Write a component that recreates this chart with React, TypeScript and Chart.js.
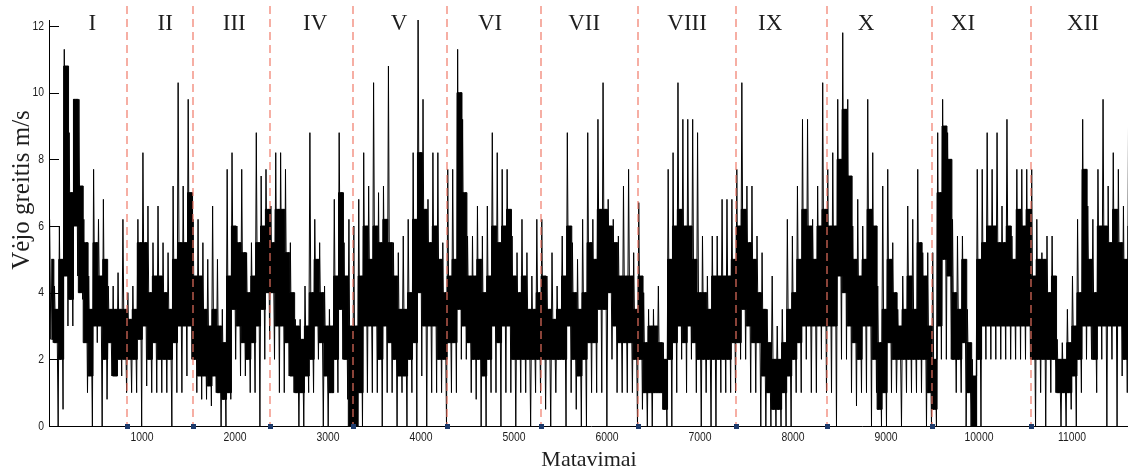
import React, { useEffect, useRef } from 'react';
import { Chart, registerables } from 'chart.js';

Chart.register(...registerables);

// Month labels and month boundaries (measurement index)
const monthNames = ['I', 'II', 'III', 'IV', 'V', 'VI', 'VII', 'VIII', 'IX', 'X', 'XI', 'XII'];
const monthBounds = [0, 841, 1544, 2379, 3271, 4281, 5292, 6335, 7389, 8367, 9496, 10560, 11656];
const monthLabelPos = [465, 1250, 1992, 2862, 3765, 4743, 5754, 6861, 7754, 8785, 9828, 11119];

const xTickValues = [1000, 2000, 3000, 4000, 5000, 6000, 7000, 8000, 9000, 10000, 11000];
const yTickValues = [0, 2, 4, 6, 8, 10, 12];

// Wind speed trace, in consecutive groups of four per short
// stretch of measurements: peak, low edge of dense band, high edge of dense band, trough.
const jan = [
  6.2, 2.6, 5.0, 2.5, 4.2, 2.5, 3.5, 0, 6.0, 2.0, 5.0, 0.5, 11.3, 4.5, 10.8, 3.0,
  8.8, 3.8, 7.0, 3.0, 9.8, 6.0, 9.8, 4.5, 9.8, 4.0, 7.2, 3.8, 6.2, 2.5, 5.5, 1.0,
  4.5, 1.5, 3.5, 0, 7.7, 3.0, 5.5, 2.5, 6.2, 3.0, 4.5, 0, 6.8, 2.0, 5.0, 0.8,
  4.2, 2.5, 3.5, 1.5, 4.2, 1.5, 3.5, 1.5, 4.6, 2.0, 3.5, 1.5, 6.2, 2.0, 3.5, 1.0,
];
const feb = [
  4.0, 2.0, 3.2, 1.0, 4.2, 2.0, 3.5, 1.0, 6.2, 2.6, 5.5, 0, 8.2, 3.0, 5.5, 1.2,
  6.6, 2.0, 4.0, 1.0, 5.5, 2.5, 4.5, 1.0, 6.6, 2.0, 4.5, 1.0, 5.5, 2.0, 4.0, 1.0,
  5.2, 2.0, 3.5, 0, 7.2, 2.5, 5.0, 1.0, 10.3, 3.0, 5.5, 1.0, 7.2, 3.0, 5.5, 1.5,
  9.8, 3.0, 7.0, 2.0,
];
const mar = [
  6.2, 2.0, 4.5, 1.0, 6.2, 1.5, 4.5, 0.8, 5.5, 1.5, 3.5, 0.8, 5.0, 1.2, 3.0, 0.6,
  6.6, 1.5, 3.5, 1.0, 5.0, 1.0, 3.0, 0, 3.5, 0.8, 2.5, 0, 7.7, 1.0, 4.5, 0.8,
  8.2, 3.5, 6.0, 2.0, 6.0, 3.0, 5.5, 1.5, 7.7, 2.5, 5.2, 1.5, 5.2, 2.0, 4.0, 1.0,
  5.5, 2.5, 4.5, 1.0, 8.8, 3.0, 5.5, 0, 7.5, 3.5, 6.0, 2.0, 7.7, 4.0, 6.5, 2.6,
];
const apr = [
  6.6, 4.0, 5.5, 2.0, 8.2, 3.0, 6.5, 1.0, 8.2, 3.0, 6.5, 1.0, 7.7, 2.5, 5.2, 1.5,
  5.5, 1.5, 4.0, 1.0, 3.2, 1.0, 3.0, 0, 3.2, 1.0, 2.6, 0, 4.2, 1.5, 3.0, 1.0,
  8.8, 2.0, 4.0, 1.0, 6.2, 3.0, 5.0, 2.0, 5.5, 2.5, 4.0, 0, 4.2, 1.5, 3.0, 0,
  3.5, 1.0, 3.0, 1.0, 6.8, 2.0, 4.5, 1.0, 8.8, 3.5, 7.0, 2.0, 5.5, 2.0, 4.5, 0.8,
  6.2, 0, 3.0, 0,
];
const may = [
  6.0, 0, 3.0, 0, 6.8, 1.0, 4.5, 0, 8.2, 3.0, 6.0, 1.0, 7.2, 3.0, 5.0, 1.0,
  10.3, 3.0, 6.0, 1.0, 7.0, 2.0, 5.5, 0, 7.2, 3.0, 6.2, 1.0, 10.8, 2.5, 5.5, 1.0,
  5.5, 2.0, 4.5, 0, 5.2, 1.5, 3.5, 1.0, 5.7, 1.5, 3.5, 0, 6.2, 2.0, 4.0, 1.0,
  8.2, 2.5, 6.2, 0, 12.4, 4.0, 8.2, 1.5, 9.8, 3.0, 6.5, 0, 6.8, 3.0, 5.5, 1.0,
  8.2, 3.0, 6.0, 1.0, 8.2, 2.0, 5.0, 1.0, 5.5, 2.0, 4.0, 0,
];
const jun = [
  7.7, 2.5, 4.5, 1.0, 7.7, 2.5, 5.0, 1.0, 11.3, 3.5, 10.0, 2.0, 9.2, 3.0, 7.0, 2.0,
  5.7, 2.5, 4.5, 1.0, 5.7, 2.0, 4.5, 0.8, 6.6, 2.0, 5.0, 0, 5.7, 1.5, 4.0, 0,
  6.6, 2.0, 4.5, 1.0, 8.8, 3.0, 6.0, 1.0, 8.2, 2.5, 5.5, 0, 7.7, 3.0, 6.0, 1.0,
  7.7, 3.0, 6.5, 1.0, 5.7, 2.0, 4.5, 0, 5.2, 2.0, 4.0, 1.0, 6.2, 2.0, 4.5, 1.0,
  5.2, 2.0, 3.5, 0, 4.5, 2.0, 3.5, 1.0, 6.2, 2.0, 4.0, 1.0,
];
const jul = [
  6.2, 2.0, 4.5, 0.5, 4.5, 2.0, 3.5, 0, 5.2, 2.0, 3.2, 1.0, 4.2, 2.0, 3.5, 2.0,
  5.7, 2.0, 4.5, 0, 8.8, 3.0, 6.0, 1.0, 5.5, 2.0, 4.0, 0.5, 5.0, 1.5, 3.5, 0,
  6.2, 2.0, 4.0, 0, 8.8, 2.5, 5.5, 1.0, 6.2, 2.5, 5.0, 1.0, 9.2, 3.5, 6.5, 1.0,
  10.3, 3.5, 6.5, 0, 6.8, 4.0, 6.0, 2.0, 6.2, 3.0, 5.5, 1.0, 5.7, 2.5, 4.5, 1.0,
  7.2, 2.5, 4.5, 1.0, 7.7, 2.5, 4.5, 1.0, 5.2, 2.0, 3.5, 0,
];
const aug = [
  6.7, 2.0, 4.5, 0.5, 4.0, 1.0, 2.5, 0, 3.5, 1.0, 3.0, 0, 3.5, 1.0, 3.0, 1.0,
  4.2, 1.0, 2.5, 1.0, 2.5, 0.5, 2.0, 0, 7.7, 2.0, 5.0, 0, 8.2, 2.5, 6.0, 1.0,
  10.3, 3.0, 6.5, 2.0, 9.2, 2.5, 6.0, 1.0, 9.2, 3.0, 6.0, 2.0, 9.2, 2.5, 5.0, 1.0,
  8.8, 2.0, 4.0, 0, 5.7, 2.0, 4.0, 1.0, 4.5, 2.0, 3.5, 0, 5.7, 2.0, 4.5, 0,
  5.7, 2.0, 4.5, 1.0, 6.8, 2.0, 4.5, 1.0, 6.8, 2.0, 4.5, 1.0, 6.8, 2.5, 5.0, 1.0,
];
const sep = [
  7.7, 2.5, 6.0, 2.0, 10.3, 3.5, 6.5, 2.0, 7.2, 3.0, 5.5, 1.0, 7.2, 2.5, 5.0, 1.0,
  5.7, 2.5, 4.0, 0, 5.2, 1.5, 3.5, 0, 3.5, 1.0, 2.5, 0, 4.5, 0.5, 2.0, 0,
  3.0, 0.5, 2.0, 0, 3.5, 1.0, 2.5, 0, 6.2, 1.5, 3.5, 0, 5.7, 2.0, 4.0, 1.0,
  7.2, 2.5, 5.0, 1.0, 9.2, 3.0, 6.5, 2.0, 9.2, 3.0, 6.0, 1.0, 6.2, 3.0, 5.0, 1.0,
  7.2, 3.0, 6.0, 2.0, 10.3, 3.0, 6.5, 1.0,
];
const oct = [
  7.7, 3.0, 6.0, 1.0, 8.2, 3.0, 6.0, 0, 9.8, 4.5, 8.0, 2.0, 11.8, 4.0, 9.5, 2.0,
  9.8, 3.0, 7.5, 1.0, 6.0, 2.5, 5.0, 0.6, 6.8, 2.0, 4.5, 1.0, 6.0, 3.0, 5.0, 1.0,
  9.8, 3.0, 6.5, 0, 8.2, 2.0, 6.0, 1.0, 4.2, 0.5, 2.5, 0, 7.2, 1.0, 3.5, 0,
  7.7, 2.5, 5.0, 1.0, 5.5, 2.0, 4.0, 1.0, 3.5, 2.0, 3.0, 0, 4.5, 2.0, 3.5, 1.0,
  6.6, 2.0, 4.5, 1.0, 6.2, 2.0, 3.5, 1.0, 7.7, 2.0, 5.5, 1.0, 5.2, 2.0, 4.5, 0,
  5.2, 1.0, 3.0, 0,
];
const nov = [
  5.2, 0.5, 2.0, 0, 8.8, 3.0, 7.0, 2.0, 9.8, 5.0, 9.0, 2.0, 8.8, 4.5, 8.0, 2.0,
  6.2, 2.0, 4.0, 1.0, 5.7, 2.0, 3.5, 1.0, 5.7, 2.5, 5.0, 0, 3.5, 1.0, 2.5, 0,
  2.0, 0, 1.5, 0, 7.7, 2.0, 5.0, 0, 7.7, 3.0, 5.5, 2.0, 8.8, 3.0, 6.0, 2.0,
  7.7, 3.0, 6.0, 2.0, 8.8, 3.0, 5.5, 2.0, 6.6, 3.0, 5.5, 2.0, 9.2, 3.0, 6.0, 2.0,
  5.7, 3.0, 5.0, 2.0, 7.7, 3.0, 6.5, 2.0, 7.7, 3.0, 6.0, 2.0, 7.7, 3.0, 6.5, 2.0,
];
const dec = [
  7.7, 2.0, 4.5, 0, 6.2, 2.0, 5.0, 1.0, 5.2, 2.0, 5.0, 0, 5.7, 2.0, 4.0, 1.0,
  5.7, 2.0, 4.5, 1.0, 2.6, 1.0, 2.0, 0, 2.5, 1.0, 2.0, 0, 3.5, 1.0, 2.5, 0.5,
  4.5, 1.5, 3.0, 0, 6.2, 2.0, 4.0, 1.0, 9.2, 3.0, 7.7, 2.0, 6.6, 3.0, 5.0, 2.0,
  6.2, 2.0, 4.0, 1.0, 7.7, 3.0, 6.0, 2.0, 9.8, 3.0, 6.0, 0, 7.2, 3.0, 5.5, 2.0,
  8.2, 3.0, 6.5, 0, 7.7, 3.0, 5.5, 1.5, 6.6, 2.0, 5.0, 1.0, 9.2, 3.0, 6.0, 1.0,
];

const monthReadings = [jan, feb, mar, apr, may, jun, jul, aug, sep, oct, nov, dec];

type Pt = { x: number; y: number };

function buildTrace(): Pt[] {
  const pts: Pt[] = [];
  monthReadings.forEach((arr, m) => {
    const start = monthBounds[m];
    const w = (monthBounds[m + 1] - start) / (arr.length / 4);
    for (let i = 0; i < arr.length / 4; i++) {
      for (let k = 0; k < 4; k++) {
        pts.push({ x: start + w * (i + (k + 0.5) / 4), y: arr[i * 4 + k] });
      }
    }
  });
  return pts;
}

// which = 1 -> low edge of dense band, 2 -> high edge
function buildCore(which: number): Pt[] {
  const pts: Pt[] = [];
  monthReadings.forEach((arr, m) => {
    const start = monthBounds[m];
    const w = (monthBounds[m + 1] - start) / (arr.length / 4);
    for (let i = 0; i < arr.length / 4; i++) {
      pts.push({ x: start + w * (i + 0.5), y: arr[i * 4 + which] });
    }
  });
  return pts;
}

const tickFamily = '"Liberation Sans", Arial, sans-serif';
const serif = '"Liberation Serif", "Times New Roman", "DejaVu Serif", serif';

function condensedText(ctx: CanvasRenderingContext2D, text: string, x: number, y: number, align: CanvasTextAlign) {
  ctx.save();
  ctx.translate(x, y);
  ctx.scale(0.8, 1);
  ctx.textAlign = align;
  ctx.fillText(text, 0, 0);
  ctx.restore();
}

const overlayPlugin = {
  id: 'overlay',
  afterDatasetsDraw(chart: any) {
    const { ctx, chartArea, scales } = chart;
    const x = scales.x;
    const y = scales.y;
    ctx.save();
    // month separators
    ctx.strokeStyle = '#f07462';
    ctx.lineWidth = 1.15;
    ctx.setLineDash([8, 5]);
    monthBounds.slice(1, -1).forEach((b) => {
      const px = Math.round(x.getPixelForValue(b));
      ctx.beginPath();
      ctx.moveTo(px, 6);
      ctx.lineTo(px, chartArea.bottom);
      ctx.stroke();
    });
    ctx.setLineDash([]);
    ctx.lineWidth = 1;
    // inward ticks on the left axis
    ctx.strokeStyle = '#000';
    yTickValues.forEach((v) => {
      const py = Math.round(y.getPixelForValue(v)) + 0.5;
      ctx.beginPath();
      ctx.moveTo(chartArea.left, py);
      ctx.lineTo(chartArea.left + 10, py);
      ctx.stroke();
    });
    // month boundary markers on the axis
    ctx.fillStyle = '#1d3a6b';
    monthBounds.slice(1, -1).forEach((b) => {
      const px = Math.round(x.getPixelForValue(b));
      const py = Math.round(y.getPixelForValue(0));
      ctx.fillRect(px - 2, py - 2, 5, 5);
    });
    // tick labels (condensed sans)
    ctx.fillStyle = '#1c1c1c';
    ctx.font = `13px ${tickFamily}`;
    ctx.textBaseline = 'middle';
    yTickValues.forEach((v) => {
      condensedText(ctx, String(v), chartArea.left - 5, y.getPixelForValue(v), 'right');
    });
    xTickValues.forEach((v) => {
      condensedText(ctx, String(v), x.getPixelForValue(v), chartArea.bottom + 11, 'center');
    });
    // month names
    ctx.fillStyle = '#1e1e1e';
    ctx.font = `23px ${serif}`;
    ctx.textAlign = 'center';
    ctx.textBaseline = 'alphabetic';
    monthNames.forEach((n, i) => {
      ctx.fillText(n, x.getPixelForValue(monthLabelPos[i]), 30);
    });
    // axis titles
    ctx.textBaseline = 'middle';
    ctx.font = `22px ${serif}`;
    ctx.fillText('Matavimai', 589, 460);
    ctx.font = `25px ${serif}`;
    ctx.translate(22, 190);
    ctx.rotate(-Math.PI / 2);
    ctx.fillText('Vėjo greitis m/s', 0, 0);
    ctx.restore();
  },
};

export default function App() {
  const canvasRef = useRef<HTMLCanvasElement | null>(null);

  useEffect(() => {
    document.body.style.margin = '0';
    const canvas = canvasRef.current;
    if (!canvas) return;
    const chart = new Chart(canvas, {
      type: 'line',
      data: {
        datasets: [
          {
            data: buildCore(2),
            borderColor: '#000',
            borderWidth: 1,
            pointRadius: 0,
            stepped: 'middle',
            fill: '+1',
            backgroundColor: '#000',
          },
          {
            data: buildCore(1),
            borderColor: '#000',
            borderWidth: 1,
            pointRadius: 0,
            stepped: 'middle',
            fill: false,
          },
          {
            data: buildTrace(),
            borderColor: '#000',
            borderWidth: 1,
            pointRadius: 0,
            tension: 0,
            fill: false,
          },
        ],
      },
      options: {
        animation: false,
        responsive: false,
        devicePixelRatio: 1,
        layout: { padding: { left: 0, right: 7, top: 20, bottom: 0 } },
        plugins: {
          legend: { display: false },
          tooltip: { enabled: false },
          title: { display: false },
        },
        scales: {
          x: {
            type: 'linear',
            min: 0,
            max: monthBounds[monthBounds.length - 1],
            afterBuildTicks: (s: any) => {
              s.ticks = xTickValues.map((v) => ({ value: v }));
            },
            afterFit: (s: any) => {
              s.height = 46;
            },
            grid: { display: false, drawTicks: false },
            border: { display: true, color: '#000', width: 1 },
            ticks: { display: false },
          },
          y: {
            type: 'linear',
            min: 0,
            max: 12.18,
            afterBuildTicks: (s: any) => {
              s.ticks = yTickValues.map((v) => ({ value: v }));
            },
            afterFit: (s: any) => {
              s.width = 49;
            },
            grid: { display: false, drawTicks: false },
            border: { display: true, color: '#000', width: 1 },
            ticks: { display: false },
          },
        },
      },
      plugins: [overlayPlugin],
    } as any);
    return () => chart.destroy();
  }, []);

  return (
    <div style={{ width: 1128, height: 472, overflow: 'hidden', background: '#fff' }}>
      <canvas ref={canvasRef} width={1140} height={472} style={{ display: 'block' }} />
    </div>
  );
}
